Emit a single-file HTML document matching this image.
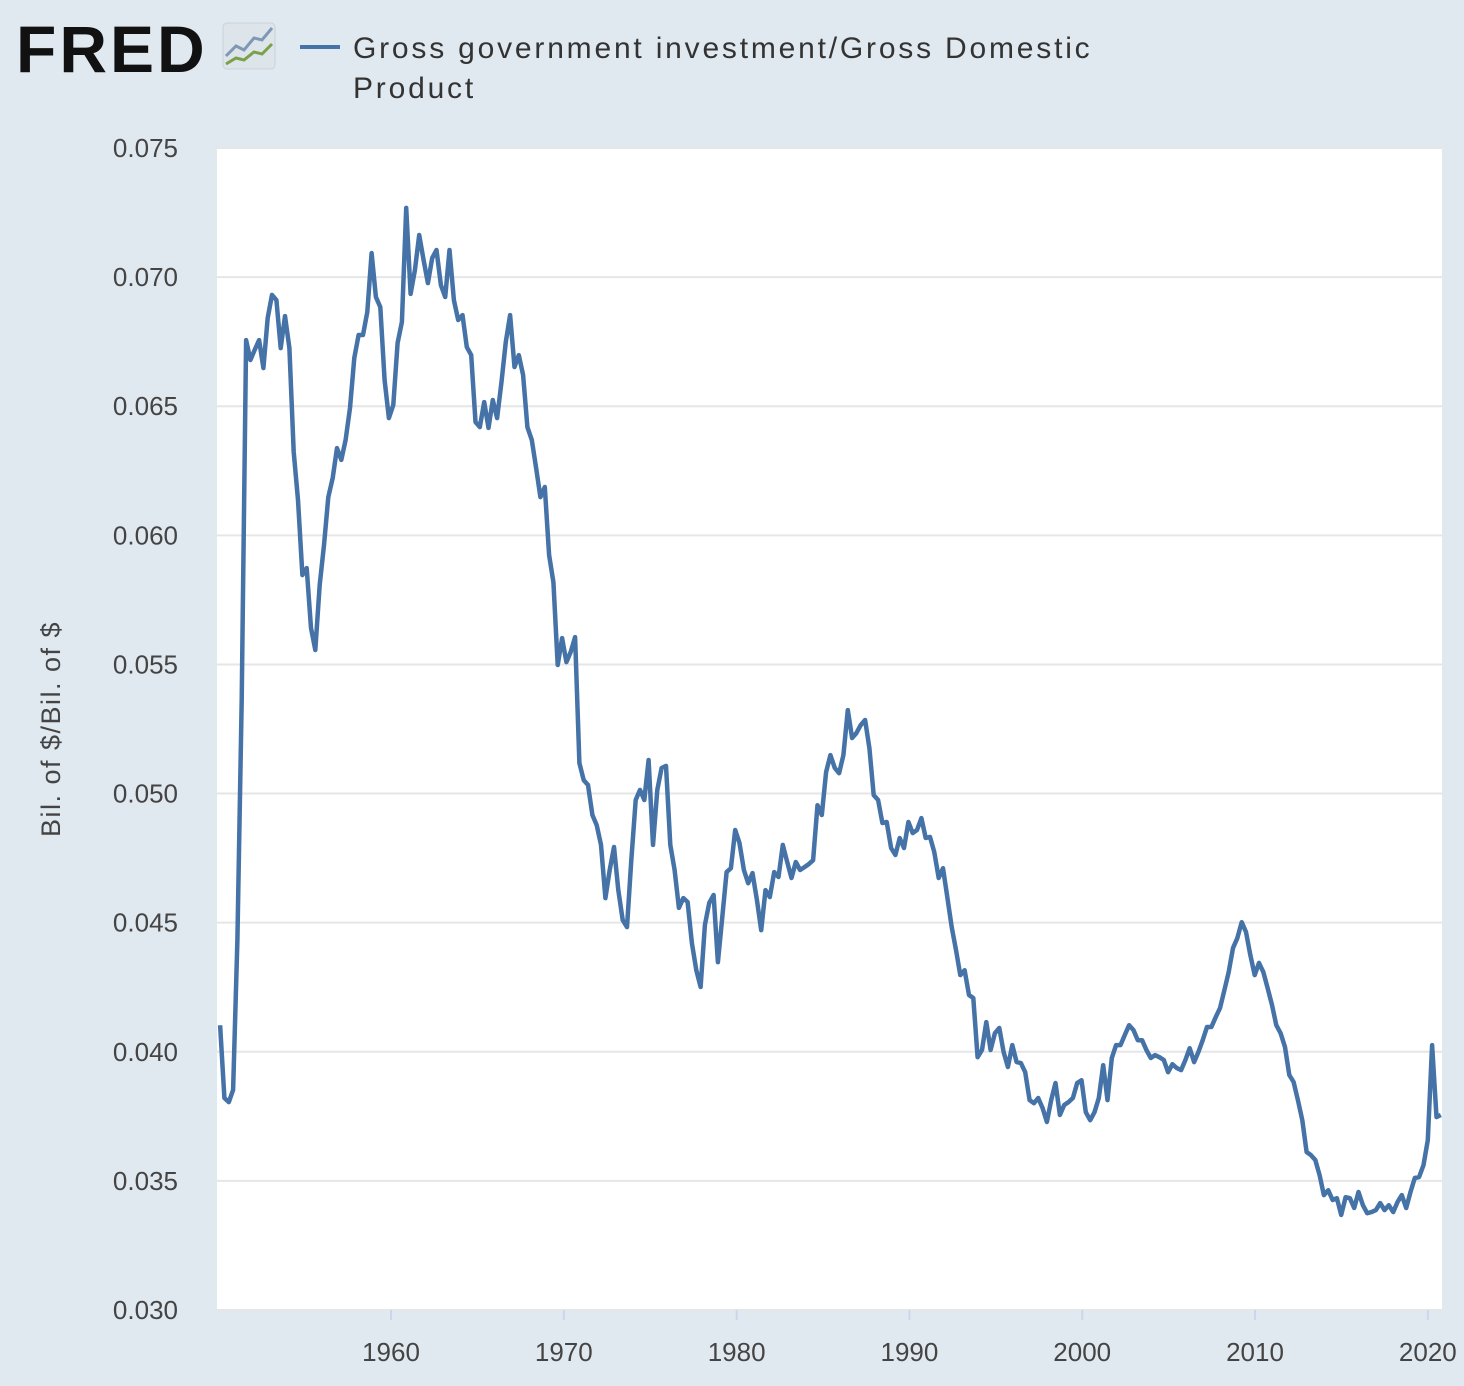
<!DOCTYPE html>
<html><head><meta charset="utf-8"><style>
html,body{margin:0;padding:0;background:#e1e9f0;}
body{width:1464px;height:1386px;position:relative;overflow:hidden;font-family:"Liberation Sans",sans-serif;}
</style></head><body>
<div style="position:absolute;left:16px;top:14px;font-weight:bold;font-size:66px;letter-spacing:3px;color:#111;line-height:70px;">FRED</div>
<svg style="position:absolute;left:222px;top:22px" width="56" height="50">
<rect x="1" y="1" width="52" height="46" rx="4" fill="#dde4ea" stroke="#c9d2da"/>
<polyline points="4,34 14,24 22,28 32,16 40,18 50,6" fill="none" stroke="#7e98b6" stroke-width="3"/>
<polyline points="4,42 14,36 22,38 32,30 40,32 50,22" fill="none" stroke="#7aa04a" stroke-width="3"/>
</svg>
<div style="position:absolute;left:300px;top:45px;width:40px;height:4px;background:#4572a7"></div>
<div style="position:absolute;left:353px;top:29px;font-size:30px;color:#333;line-height:40px;letter-spacing:2.8px">Gross government investment/Gross Domestic<br>Product</div>
<svg id="chart" width="1464" height="1386" style="position:absolute;left:0;top:0"></svg>
<script>
const yTicks=[0.030,0.035,0.040,0.045,0.050,0.055,0.060,0.065,0.070,0.075];
const xTicks=[1960,1970,1980,1990,2000,2010,2020];
const startYear=1950.0;
const endYear=2020.75;
const values=[41.03,38.21,38.05,38.52,44.33,53.62,67.56,66.79,67.18,67.56,66.48,68.42,69.31,69.11,67.25,68.49,67.25,63.23,61.37,58.46,58.73,56.41,55.56,58.08,59.62,61.48,62.22,63.38,62.92,63.69,64.93,66.87,67.76,67.76,68.65,70.93,69.23,68.84,66.01,64.54,65.05,67.45,68.26,72.68,69.35,70.27,71.63,70.66,69.77,70.74,71.05,69.69,69.23,71.05,69.11,68.34,68.53,67.29,66.98,64.39,64.19,65.16,64.16,65.24,64.54,65.94,67.49,68.53,66.52,66.98,66.21,64.19,63.69,62.61,61.48,61.87,59.24,58.19,54.98,56.02,55.09,55.48,56.06,51.18,50.52,50.33,49.17,48.78,48.01,45.95,47.04,47.93,46.26,45.10,44.83,47.42,49.75,50.14,49.75,51.30,48.01,50.14,50.99,51.07,48.01,47.04,45.57,45.95,45.80,44.21,43.16,42.51,44.91,45.76,46.07,43.47,45.18,46.96,47.11,48.59,48.08,47.04,46.53,46.92,45.88,44.71,46.26,45.99,46.96,46.77,48.01,47.35,46.73,47.35,47.04,47.15,47.27,47.42,49.55,49.17,50.83,51.49,50.99,50.79,51.49,53.23,52.15,52.34,52.65,52.85,51.76,49.94,49.75,48.86,48.90,47.89,47.62,48.28,47.89,48.90,48.47,48.59,49.05,48.28,48.32,47.73,46.73,47.11,45.99,44.83,43.94,42.97,43.16,42.20,42.08,39.79,40.07,41.15,40.07,40.72,40.92,39.99,39.41,40.26,39.60,39.56,39.21,38.13,38.01,38.21,37.82,37.28,38.13,38.79,37.55,37.94,38.05,38.21,38.79,38.90,37.66,37.35,37.66,38.21,39.48,38.13,39.76,40.26,40.26,40.65,41.03,40.84,40.45,40.45,40.07,39.76,39.87,39.79,39.68,39.21,39.52,39.37,39.29,39.68,40.14,39.60,39.99,40.45,40.96,40.96,41.34,41.69,42.39,43.09,44.02,44.40,45.02,44.64,43.75,42.97,43.44,43.09,42.47,41.81,41.03,40.72,40.18,39.10,38.83,38.13,37.35,36.12,36.00,35.81,35.22,34.45,34.64,34.26,34.33,33.68,34.37,34.33,33.95,34.57,34.06,33.75,33.79,33.87,34.14,33.87,34.06,33.79,34.18,34.45,33.95,34.57,35.11,35.15,35.61,36.58,40.26,37.47,37.55];
const NS="http://www.w3.org/2000/svg";
const svg=document.getElementById('chart');
const L=217,R=1442,T=148,B=1310;
const yMin=0.030,yMax=0.075;
const X0=1949.82,X1=2020.82;
function xs(yr){return L+(yr-X0)/(X1-X0)*(R-L);}
function ys(v){return B-(v-yMin)/(yMax-yMin)*(B-T);}
function mk(t,a){const e=document.createElementNS(NS,t);for(const k in a)e.setAttribute(k,a[k]);svg.appendChild(e);return e;}
const bg=mk('rect',{x:L,y:T,width:R-L,height:B-T,fill:'#fff'});


yTicks.forEach(v=>{
  const g=mk('line',{x1:L,x2:R,y1:ys(v),y2:ys(v),stroke:'#e6e6e6','stroke-width':2});
  
  
  const t=mk('text',{x:178,y:ys(v)+9,'text-anchor':'end','font-size':26,fill:'#444','font-family':'Liberation Sans, sans-serif'});
  t.textContent=v.toFixed(3);
  
  
});
xTicks.forEach(yr=>{
  const px=L+(yr-1949.93)/(X1-1949.93)*(R-L);
  const tk=mk('line',{x1:px,x2:px,y1:B,y2:B+10,stroke:'#ccd6eb','stroke-width':2});
  
  
  const t=mk('text',{x:px,y:B+51,'text-anchor':'middle','font-size':26,fill:'#444','font-family':'Liberation Sans, sans-serif'});
  t.textContent=yr;
  
  
});
const yt=mk('text',{x:0,y:0,'text-anchor':'middle','font-size':27,'letter-spacing':1.5,fill:'#444','font-family':'Liberation Sans, sans-serif',transform:'translate(60,729) rotate(-90)'});
yt.textContent='Bil. of $/Bil. of $';


const n=values.length;
const pts=values.map((v,i)=>{const yr=startYear+i*(endYear-startYear)/(n-1);return xs(yr).toFixed(1)+','+ys(v/1000).toFixed(1);}).join(' ');
const line=mk('polyline',{points:pts,fill:'none',stroke:'#4572a7','stroke-width':4.5,'stroke-linejoin':'round'});


</script>
</body></html>
